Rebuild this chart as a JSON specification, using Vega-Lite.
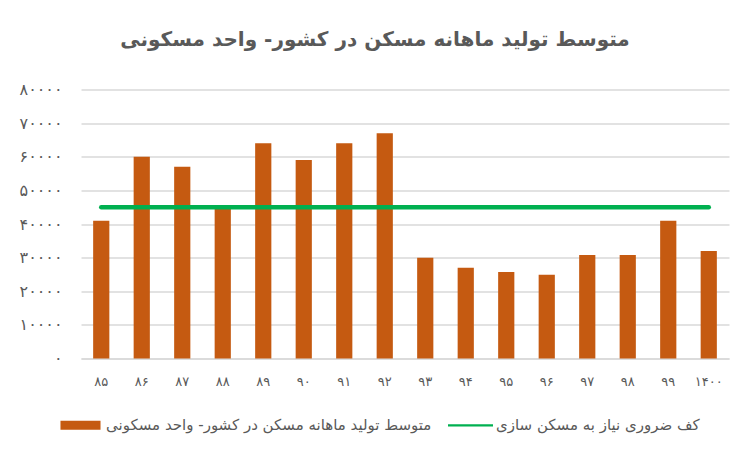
{
  "$schema": "https://vega.github.io/schema/vega-lite/v6.json",
  "width": 648,
  "height": 269,
  "autosize": {"type": "none"},
  "padding": {"left": 81, "top": 89.5, "right": 20, "bottom": 94.5},
  "background": "white",
  "config": {
    "font": "DejaVu Sans",
    "view": {"stroke": null},
    "axis": {"labelColor": "#595959", "labelFontSize": 13, "ticks": false, "title": null},
    "axisY": {
      "values": [0, 10000, 20000, 30000, 40000, 50000, 60000, 70000, 80000],
      "format": "d",
      "domain": false,
      "gridColor": "#D9D9D9",
      "gridWidth": 1.5,
      "labelPadding": 19,
      "labelFontSize": 16,
      "labelOverlap": false
    }
  },
  "title": {
    "text": "متوسط تولید ماهانه مسکن در کشور- واحد مسکونی",
    "fontSize": 20,
    "fontWeight": "bold",
    "color": "#595959",
    "anchor": "middle",
    "dx": -30,
    "offset": 32
  },
  "data": {
    "values": [
      {"year": "۸۵", "value": 41000, "need": 45000},
      {"year": "۸۶", "value": 60000, "need": 45000},
      {"year": "۸۷", "value": 57000, "need": 45000},
      {"year": "۸۸", "value": 44700, "need": 45000},
      {"year": "۸۹", "value": 64000, "need": 45000},
      {"year": "۹۰", "value": 59000, "need": 45000},
      {"year": "۹۱", "value": 64000, "need": 45000},
      {"year": "۹۲", "value": 67000, "need": 45000},
      {"year": "۹۳", "value": 30000, "need": 45000},
      {"year": "۹۴", "value": 27000, "need": 45000},
      {"year": "۹۵", "value": 25700, "need": 45000},
      {"year": "۹۶", "value": 24900, "need": 45000},
      {"year": "۹۷", "value": 30800, "need": 45000},
      {"year": "۹۸", "value": 30800, "need": 45000},
      {"year": "۹۹", "value": 41000, "need": 45000},
      {"year": "۱۴۰۰", "value": 32000, "need": 45000}
    ]
  },
  "encoding": {
    "x": {
      "field": "year",
      "type": "ordinal",
      "sort": null,
      "scale": {"paddingInner": 0.6, "paddingOuter": 0.3},
      "axis": {"labelAngle": 0, "labelPadding": 17, "domainColor": "#D9D9D9", "domainWidth": 1.5, "labelFontSize": 13}
    }
  },
  "layer": [
    {
      "mark": {"type": "bar"},
      "encoding": {
        "y": {
          "field": "value",
          "type": "quantitative",
          "scale": {"domain": [0, 80000]},
          "axis": {
            "values": [0, 10000, 20000, 30000, 40000, 50000, 60000, 70000, 80000],
            "labelExpr": "replace(replace(replace(replace(replace(replace(replace(replace(replace(datum.label, regexp('0','g'), '۰'), '1', '۱'), '2', '۲'), '3', '۳'), '4', '۴'), '5', '۵'), '6', '۶'), '7', '۷'), '8', '۸')"
          }
        },
        "color": {
          "datum": "متوسط تولید ماهانه مسکن در کشور- واحد مسکونی",
          "type": "nominal",
          "scale": {
            "domain": ["متوسط تولید ماهانه مسکن در کشور- واحد مسکونی", "کف ضروری نیاز به مسکن سازی"],
            "range": ["#C55A11", "#00B050"]
          },
          "legend": {
            "orient": "none",
            "legendX": -23,
            "legendY": 313,
            "direction": "horizontal",
            "title": null,
            "labelFontSize": 15,
            "labelColor": "#595959",
            "labelLimit": 500,
            "labelOffset": 3,
            "columnPadding": 16,
            "symbolSize": 2025,
            "encode": {
              "symbols": {
                "update": {
                  "shape": {"signal": "datum.index === 0 ? 'M-0.89,-0.2H0.89V0.2H-0.89Z' : 'M-1,-0.05H1V0.05H-1Z'"},
                  "fill": {"scale": "color", "field": "value"},
                  "stroke": {"value": "transparent"},
                  "strokeWidth": {"value": 0},
                  "opacity": {"value": 1}
                }
              }
            }
          }
        }
      }
    },
    {
      "mark": {"type": "line", "strokeWidth": 4.5, "strokeCap": "round"},
      "encoding": {
        "y": {
          "field": "need",
          "type": "quantitative",
          "axis": {
            "values": [0, 10000, 20000, 30000, 40000, 50000, 60000, 70000, 80000],
            "labelExpr": "replace(replace(replace(replace(replace(replace(replace(replace(replace(datum.label, regexp('0','g'), '۰'), '1', '۱'), '2', '۲'), '3', '۳'), '4', '۴'), '5', '۵'), '6', '۶'), '7', '۷'), '8', '۸')"
          }
        },
        "color": {"datum": "کف ضروری نیاز به مسکن سازی", "type": "nominal"}
      }
    }
  ]
}
